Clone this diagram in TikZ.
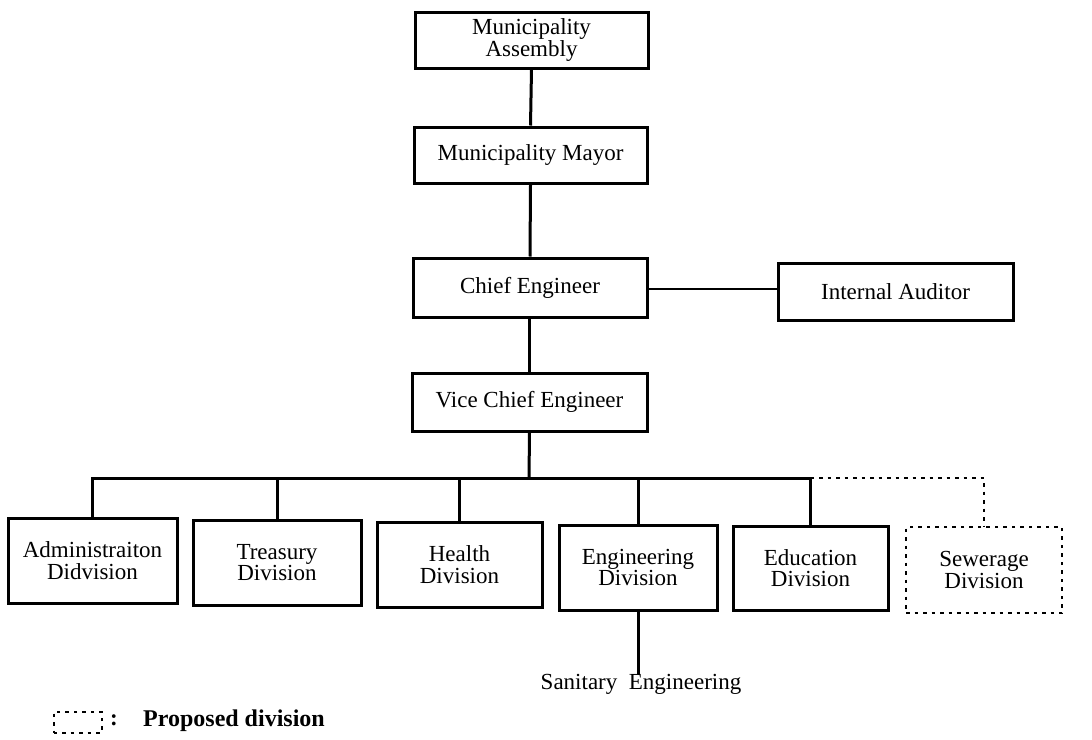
\documentclass[tikz,border=0pt]{standalone}
\usepackage{fontspec}
\setmainfont{Liberation Serif}
\begin{document}
\begin{tikzpicture}[x=1pt,y=1pt,
  orgbox/.style={draw, line width=3pt, inner sep=0pt, align=center,
    font=\fontsize{23}{21.5}\selectfont},
  propbox/.style={orgbox, line width=2pt, dash pattern=on 3.5pt off 5pt},
  link/.style={line width=3pt},
  proplink/.style={line width=2pt, dash pattern=on 3.5pt off 5pt},
  thinlink/.style={line width=1.5pt},
  plain/.style={inner sep=0pt, font=\fontsize{23}{21}\selectfont}]
\useasboundingbox (0,0) rectangle (1092,-739);

% top of the hierarchy
\node[orgbox, minimum width=233, minimum height=56] (assembly) at (531.5,-40) {Municipality\\Assembly};
\node[orgbox, minimum width=233, minimum height=56] (mayor) at (530.5,-155) {Municipality Mayor};
\node[orgbox, minimum width=234, minimum height=59] (chief) at (530,-287.5) {Chief Engineer};
\node[orgbox, minimum width=235, minimum height=58] (vice) at (529.5,-402) {Vice Chief Engineer};
\node[orgbox, minimum width=235, minimum height=57] (auditor) at (895.5,-291.5) {Internal Auditor};

% divisions
\node[orgbox, minimum width=169, minimum height=85] (admin) at (92.5,-560.5) {Administraiton\\Didvision};
\node[orgbox, minimum width=168, minimum height=85] (treasury) at (277,-562.5) {Treasury\\Division};
\node[orgbox, minimum width=165, minimum height=85] (health) at (459.5,-564.5) {Health\\Division};
\node[orgbox, minimum width=158, minimum height=85] (engineering) at (638,-567.5) {Engineering\\Division};
\node[orgbox, minimum width=155, minimum height=84] (education) at (810.5,-568) {Education\\Division};
\node[propbox, minimum width=156, minimum height=86] (sewerage) at (984,-570) {Sewerage\\Division};

\node[plain] (sanitary) at (641,-684) {Sanitary\ \ Engineering};

% legend
\node[propbox, minimum width=48, minimum height=21] (legbox) at (77.5,-722) {};
\node[plain, font=\fontsize{23}{21}\selectfont\bfseries] (legcolon) at (114,-720) {:};
\node[plain, anchor=west, font=\fontsize{24}{21}\selectfont\bfseries] (legtext) at (143,-721) {Proposed division};

% connectors
\coordinate (bus) at (529,-478);
\draw[link] (assembly.south) -- (mayor.north);
\draw[link] (mayor.south) -- (chief.north);
\draw[link] (chief.south) -- (vice.south |- chief.south) -- (vice.north);
\draw[thinlink] (chief.east |- 0,-289) -- (auditor.west |- 0,-289);
\draw[link] (vice.south) -- (bus);
\draw[link] (admin.north) |- (bus);
\draw[link] (treasury.north) -- (treasury.north |- bus);
\draw[link] (health.north) -- (health.north |- bus);
\draw[link] (engineering.north) -- (engineering.north |- bus);
\draw[link] (bus) -| (education.north);
\draw[proplink] (education.north |- bus) -| (sewerage.north);
\draw[link] (engineering.south) -- (engineering.south |- sanitary.north);
\end{tikzpicture}
\end{document}
